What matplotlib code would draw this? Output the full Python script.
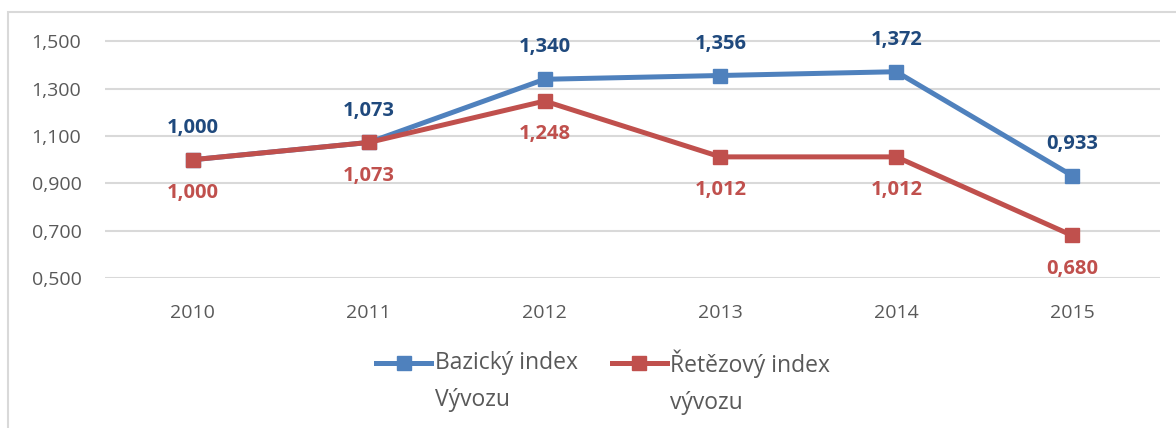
import matplotlib.pyplot as plt
from matplotlib.patches import Rectangle
from matplotlib.legend_handler import HandlerLine2D
from matplotlib.transforms import Affine2D

# Data
roky = ['2010', '2011', '2012', '2013', '2014', '2015']
bazicky = [1.000, 1.073, 1.340, 1.356, 1.372, 0.933]
retezovy = [1.000, 1.073, 1.248, 1.012, 1.012, 0.680]

modra = '#4f81bd'
cervena = '#c0504d'
modra_txt = '#1f497d'
seda = '#595959'

plt.rcParams['font.family'] = ['Open Sans', 'DejaVu Sans']

fig = plt.figure(figsize=(11.76, 4.28), dpi=100)
ax = fig.add_axes([0.0893, 0.3505, 0.8971, 0.619])

x = list(range(len(roky)))
ax.plot(x, bazicky, color=modra, lw=3.6, marker='s', ms=10, label='Bazický index\nVývozu', zorder=3)
ax.plot(x, retezovy, color=cervena, lw=3.6, marker='s', ms=10, label='Řetězový index\nvývozu', zorder=3)

def fmt(v):
    return f'{v:.3f}'.replace('.', ',')

for i in x:
    ax.annotate(fmt(bazicky[i]), (i, bazicky[i]), xytext=(0, 23), textcoords='offset points',
                ha='center', va='center', fontsize=14.5, fontweight='bold', color=modra_txt)
    ax.annotate(fmt(retezovy[i]), (i, retezovy[i]), xytext=(0, -24), textcoords='offset points',
                ha='center', va='center', fontsize=14.5, fontweight='bold', color=cervena)

ax.set_xlim(-0.5, 5.5)
ax.set_ylim(0.5, 1.62)
ax.set_yticks([0.5, 0.7, 0.9, 1.1, 1.3, 1.5])
ax.set_yticklabels([fmt(v) for v in [0.5, 0.7, 0.9, 1.1, 1.3, 1.5]])
ax.set_xticks(x)
ax.set_xticklabels(roky)
ax.tick_params(length=0, labelsize=14, colors=seda)
ax.tick_params(axis='x', pad=19)
ax.tick_params(axis='y', pad=17)
ax.grid(axis='y', color='#d9d9d9', lw=1.5)
ax.set_axisbelow(True)
for s in ax.spines.values():
    s.set_visible(False)


# znacka legendy zarovnana s prvnim radkem textu
class Nahoru(HandlerLine2D):
    def create_artists(self, legend, orig_handle, xdescent, ydescent, width, height, fontsize, trans):
        trans = trans + Affine2D().translate(0, 20)
        return super().create_artists(legend, orig_handle, xdescent, ydescent, width, height, fontsize, trans)


h, l = ax.get_legend_handles_labels()
leg = fig.legend(h, l, loc='center', bbox_to_anchor=(0.513, 0.108), ncol=2, frameon=False,
                 fontsize=16.5, handlelength=2.4, handletextpad=0.15, columnspacing=1.5,
                 handler_map={h[0]: Nahoru(), h[1]: Nahoru()})
for t in leg.get_texts():
    t.set_color(seda)
    t.set_linespacing(1.72)

# okraj grafu
fig.patches.append(Rectangle((8 / 1176, -0.02), 1.1, 1 - 12 / 428 + 0.02, transform=fig.transFigure,
                             fill=False, edgecolor='#d9d9d9', lw=1.5))

fig.savefig('out.png', dpi=100)
